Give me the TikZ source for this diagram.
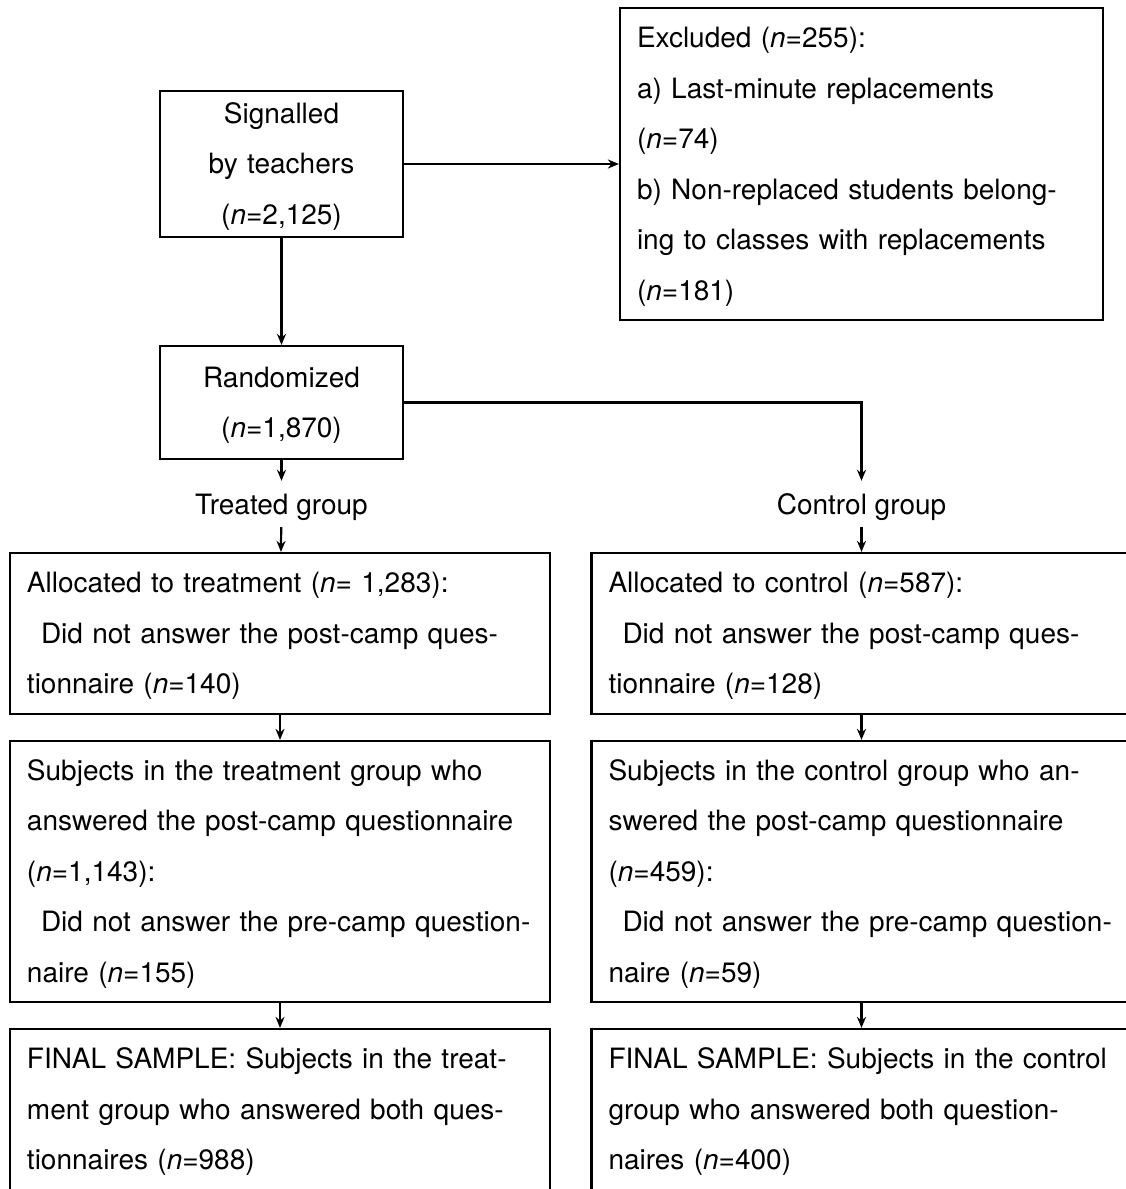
\documentclass[tikz,border=0pt]{standalone}
\usepackage{fontspec}
\setmainfont{TeX Gyre Heros}
\usetikzlibrary{arrows.meta}
\newcommand\nn{\textit{n}}
\tikzset{
  stage/.style={draw, line width=2.2pt, inner xsep=17pt, inner ysep=0pt,
    align=left, font=\fontsize{28}{50.5}\selectfont,
    execute at begin node={\rule{0pt}{25.5pt}}},
  groupname/.style={inner sep=0pt, minimum height=46pt,
    text height=27pt, text depth=7pt,
    font=\fontsize{28}{50.5}\selectfont},
  flow/.style={line width=2.2pt, -{Stealth[length=11pt,width=9pt]}},
}

\begin{document}
\begin{tikzpicture}[x=1pt,y=-1pt]
    \useasboundingbox (0,0) rectangle (1126,1189);
    \clip (0,0) rectangle (1126,1189);
    % top
    \node[stage, align=center, text width=209pt, minimum height=146pt] (signalled) at (281.5,164)
      {Signalled\\by teachers\\(\nn=2,125)};
    \node[stage, text width=449pt, minimum height=312pt] (excluded) at (861.5,164)
      {Excluded (\nn=255):\\a) Last-minute replacements\\(\nn=74)\\b) Non-replaced students belong-\\ing to classes with replacements\\(\nn=181)};
    \draw[flow] (signalled) -- (excluded);
    \node[stage, align=center, text width=209pt, minimum height=113pt] (random) at (281.5,402.5)
      {Randomized\\(\nn=1,870)};
    \draw[flow] (signalled) -- (random);
    % groups
    \node[groupname] (treated) at (281.5,504) {Treated group};
    \node[groupname] (control) at (861.5,504) {Control group};
    \draw[flow] (random) -- (treated);
    \draw[flow] (random.east) -| (control);
    % treated
    \node[stage, text width=506pt, minimum height=161pt] (alloct) at (280,633.5)
      {Allocated to treatment (\nn= 1,283):\\\hspace*{0.5em}Did not answer the post-camp ques-\\tionnaire (\nn=140)};
    \node[stage, text width=506pt, minimum height=261pt] (postt) at (280,871.5)
      {Subjects in the treatment group who\\answered the post-camp questionnaire\\(\nn=1,143):\\\hspace*{0.5em}Did not answer the pre-camp question-\\naire (\nn=155)};
    \node[stage, text width=506pt, minimum height=161pt] (finalt) at (280,1109.5)
      {FINAL SAMPLE: Subjects in the treat-\\ment group who answered both ques-\\tionnaires (\nn=988)};
    \draw[flow] (treated) -- (alloct);
    \draw[flow] (alloct) -- (postt);
    \draw[flow] (postt) -- (finalt);
    % control
    \node[stage, text width=506pt, minimum height=161pt] (allocc) at (861.5,633.5)
      {Allocated to control (\nn=587):\\\hspace*{0.5em}Did not answer the post-camp ques-\\tionnaire (\nn=128)};
    \node[stage, text width=506pt, minimum height=261pt] (postc) at (861.5,871.5)
      {Subjects in the control group who an-\\swered the post-camp questionnaire\\(\nn=459):\\\hspace*{0.5em}Did not answer the pre-camp question-\\naire (\nn=59)};
    \node[stage, text width=506pt, minimum height=161pt] (finalc) at (861.5,1109.5)
      {FINAL SAMPLE: Subjects in the control\\group who answered both question-\\naires (\nn=400)};
    \draw[flow] (control) -- (allocc);
    \draw[flow] (allocc) -- (postc);
    \draw[flow] (postc) -- (finalc);
\end{tikzpicture}
\end{document}
